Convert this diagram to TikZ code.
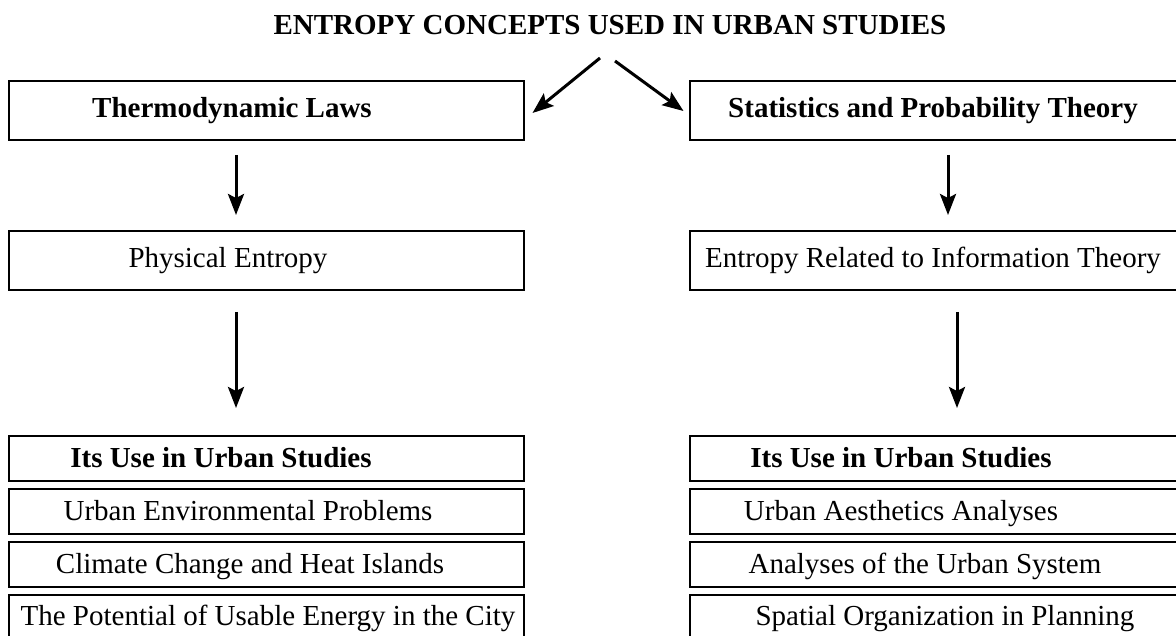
\documentclass[tikz,border=0pt]{standalone}
\usepackage{fontspec}
\setmainfont{Liberation Serif}
\usepackage{tikz}
\usetikzlibrary{arrows.meta,positioning}

\begin{document}
\begin{tikzpicture}[
  x=1pt,y=-1pt,
  font=\fontsize{29}{34}\selectfont,
  every label/.append style={text height=20pt,text depth=6pt},
  box/.style={draw,line width=2pt,minimum width=515pt,minimum height=59pt,inner sep=0pt,outer sep=0pt},
  usebox/.style={box,minimum height=45pt},
  arr/.style={-{Stealth[length=21pt,width=16pt,inset=4pt]},line width=3pt},
]
\clip (0,0) rectangle (1176,636);
\node[font=\fontsize{29}{34}\selectfont\bfseries] (title) at (610,25) {ENTROPY CONCEPTS USED IN URBAN STUDIES};
% top level
\node[box,label={[xshift=-34pt]center:\textbf{Thermodynamic Laws}}] (thermo) at (266,110.5) {};
\node[box,right=166pt of thermo,label={[xshift=-14pt]center:\textbf{Statistics and Probability Theory}}] (stats) {};
% entropy kinds
\node[box,below=91pt of thermo,label={[xshift=-38pt]center:Physical Entropy}] (phys) {};
\node[box,below=91pt of stats,label={[xshift=-14pt]center:Entropy Related to Information Theory}] (info) {};
% uses, left
\node[usebox,below=146pt of phys,label={[xshift=-45pt,yshift=-2pt]center:\textbf{Its Use in Urban Studies}}] (usel) {};
\node[usebox,below=8pt of usel,label={[xshift=-18pt,yshift=-2pt]center:Urban Environmental Problems}] (env) {};
\node[usebox,below=8pt of env,label={[xshift=-16pt,yshift=-2pt]center:Climate Change and Heat Islands}] (heat) {};
\node[usebox,below=8pt of heat,label={[xshift=2pt,yshift=-1pt]center:The Potential of Usable Energy in the City}] (energy) {};
% uses, right
\node[usebox,below=146pt of info,label={[xshift=-46pt,yshift=-2pt]center:\textbf{Its Use in Urban Studies}}] (user) {};
\node[usebox,below=8pt of user,label={[xshift=-46pt,yshift=-2pt]center:Urban Aesthetics Analyses}] (aesth) {};
\node[usebox,below=8pt of aesth,label={[xshift=-22pt,yshift=-2pt]center:Analyses of the Urban System}] (system) {};
\node[usebox,below=8pt of system,label={[xshift=-2pt,yshift=-1pt]center:Spatial Organization in Planning}] (spatial) {};
\coordinate (tl) at (600,58);
\coordinate (tr) at (615,61);
\draw[arr] (tl) -- ([xshift=9pt,yshift=-2.5pt]thermo.east);
\draw[arr] (tr) -- ([xshift=-6pt,yshift=-0.5pt]stats.west);
\draw[arr] ([xshift=-30pt,yshift=-15pt]thermo.south) -- ([xshift=-30pt,yshift=16pt]phys.north);
\draw[arr] ([xshift=1pt,yshift=-15pt]stats.south) -- ([xshift=1pt,yshift=16pt]info.north);
\draw[arr] ([xshift=-30pt,yshift=-22pt]phys.south) -- ([xshift=-30pt,yshift=28pt]usel.north);
\draw[arr] ([xshift=10pt,yshift=-22pt]info.south) -- ([xshift=10pt,yshift=28pt]user.north);
\end{tikzpicture}
\end{document}
